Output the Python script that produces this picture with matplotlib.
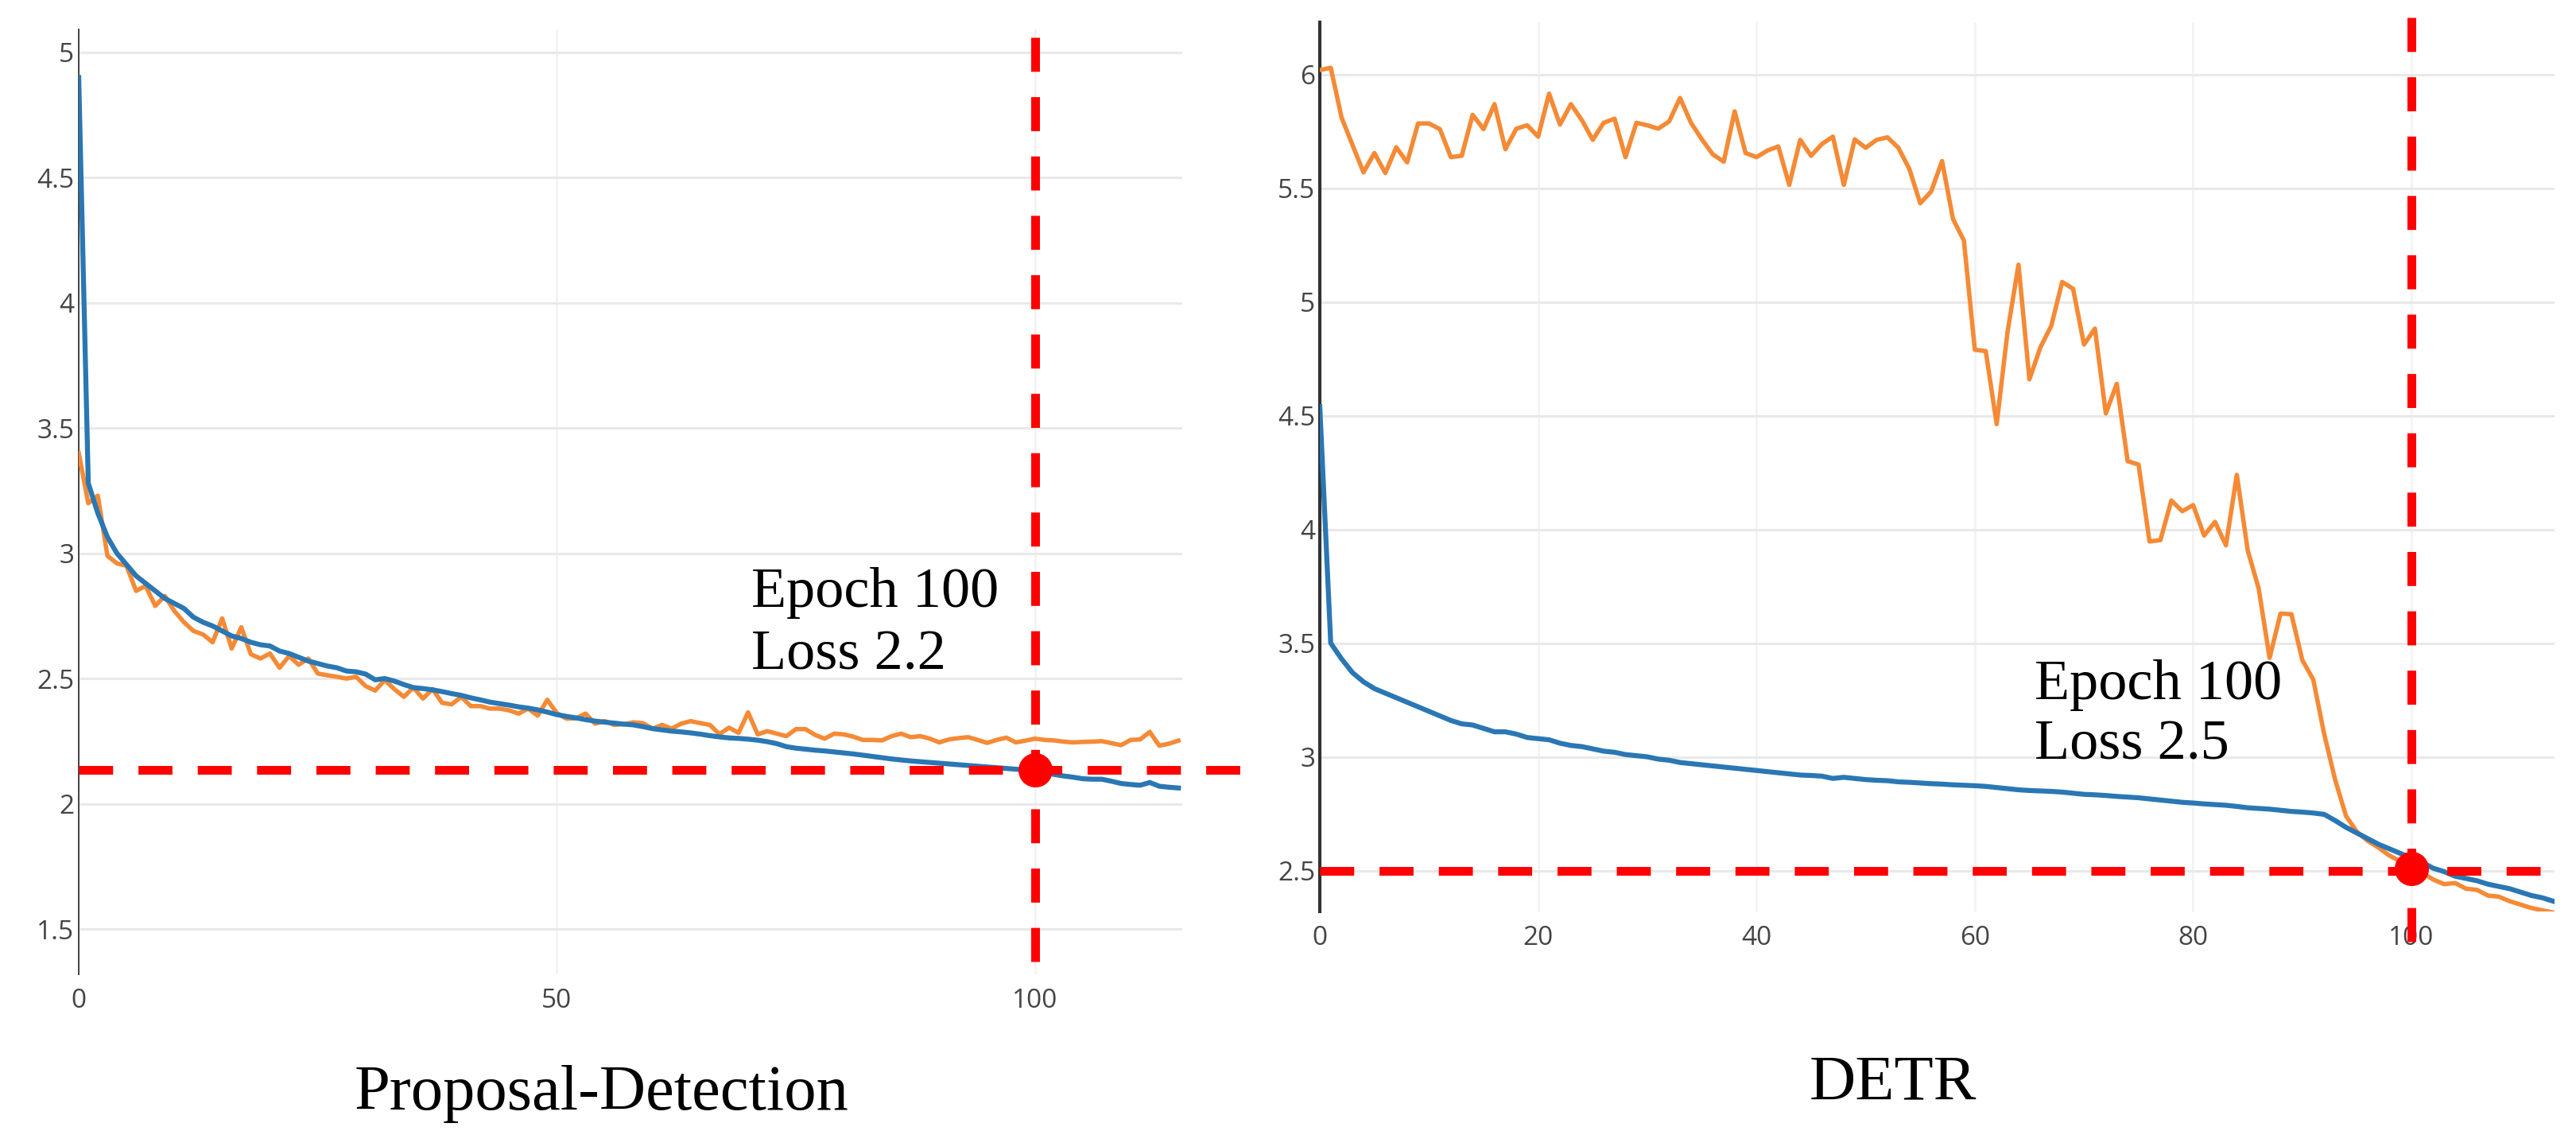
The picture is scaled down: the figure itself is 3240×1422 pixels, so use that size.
import matplotlib.pyplot as plt
import numpy as np

# Proposal-Detection loss curves (epoch 0..115)
pd_train = [4.90, 3.28, 3.16, 3.065, 3.00, 2.955, 2.91, 2.88, 2.85, 2.82,
            2.80, 2.78, 2.745, 2.725, 2.71, 2.69, 2.67, 2.66, 2.645, 2.635,
            2.63, 2.61, 2.60, 2.585, 2.57, 2.56, 2.55, 2.543, 2.53, 2.527,
            2.518, 2.495, 2.50, 2.49, 2.476, 2.464, 2.46, 2.455, 2.448, 2.44,
            2.433, 2.423, 2.415, 2.406, 2.40, 2.394, 2.387, 2.382, 2.375, 2.366,
            2.356, 2.349, 2.343, 2.336, 2.33, 2.326, 2.322, 2.318, 2.315, 2.308,
            2.30, 2.295, 2.29, 2.287, 2.283, 2.278, 2.272, 2.267, 2.263, 2.261,
            2.258, 2.254, 2.248, 2.24, 2.228, 2.222, 2.218, 2.214, 2.211, 2.207,
            2.203, 2.199, 2.194, 2.189, 2.184, 2.179, 2.175, 2.171, 2.168, 2.165,
            2.162, 2.159, 2.156, 2.153, 2.15, 2.147, 2.144, 2.141, 2.138, 2.135,
            2.132, 2.125, 2.117, 2.111, 2.106, 2.10, 2.098, 2.098, 2.09, 2.081,
            2.077, 2.074, 2.085, 2.07, 2.066, 2.063]
pd_val = [3.40, 3.20, 3.23, 2.99, 2.96, 2.95, 2.85, 2.87, 2.79, 2.83,
          2.77, 2.725, 2.69, 2.676, 2.645, 2.74, 2.62, 2.705, 2.597, 2.58,
          2.60, 2.543, 2.59, 2.555, 2.58, 2.52, 2.513, 2.507, 2.50, 2.507,
          2.47, 2.452, 2.494, 2.458, 2.427, 2.464, 2.42, 2.458, 2.403, 2.397,
          2.427, 2.39, 2.39, 2.38, 2.38, 2.373, 2.36, 2.38, 2.352, 2.415,
          2.362, 2.34, 2.341, 2.36, 2.32, 2.33, 2.315, 2.318, 2.325, 2.322,
          2.30, 2.315, 2.30, 2.32, 2.33, 2.322, 2.315, 2.278, 2.304, 2.283,
          2.365, 2.277, 2.29, 2.28, 2.27, 2.298, 2.298, 2.275, 2.26, 2.28,
          2.277, 2.268, 2.255, 2.255, 2.253, 2.27, 2.28, 2.266, 2.27, 2.26,
          2.245, 2.257, 2.262, 2.266, 2.255, 2.243, 2.255, 2.264, 2.245, 2.252,
          2.26, 2.255, 2.253, 2.248, 2.245, 2.247, 2.248, 2.25, 2.242, 2.234,
          2.255, 2.257, 2.287, 2.232, 2.24, 2.252]

# DETR loss curves (epoch 0..113)
detr_train = [4.54, 3.50, 3.43, 3.37, 3.33, 3.30, 3.28, 3.26, 3.24, 3.22,
              3.20, 3.18, 3.16, 3.145, 3.14, 3.125, 3.11, 3.11, 3.10, 3.085,
              3.08, 3.075, 3.06, 3.05, 3.045, 3.035, 3.025, 3.02, 3.01, 3.005,
              3.0, 2.99, 2.985, 2.975, 2.97, 2.965, 2.96, 2.955, 2.95, 2.945,
              2.94, 2.935, 2.93, 2.925, 2.92, 2.918, 2.915, 2.905, 2.91, 2.905,
              2.90, 2.897, 2.895, 2.89, 2.888, 2.885, 2.882, 2.88, 2.877, 2.875,
              2.873, 2.87, 2.865, 2.86, 2.855, 2.852, 2.85, 2.848, 2.845, 2.84,
              2.835, 2.833, 2.83, 2.826, 2.823, 2.82, 2.815, 2.81, 2.805, 2.80,
              2.797, 2.793, 2.79, 2.787, 2.782, 2.776, 2.773, 2.77, 2.765, 2.76,
              2.757, 2.753, 2.747, 2.72, 2.69, 2.665, 2.64, 2.615, 2.595, 2.575,
              2.555, 2.535, 2.51, 2.495, 2.475, 2.465, 2.455, 2.44, 2.43, 2.42,
              2.405, 2.39, 2.38, 2.365]
detr_val = [6.02, 6.03, 5.81, 5.69, 5.57, 5.655, 5.567, 5.68, 5.614, 5.785,
            5.785, 5.76, 5.637, 5.643, 5.823, 5.76, 5.87, 5.672, 5.762, 5.777,
            5.727, 5.916, 5.78, 5.87, 5.80, 5.713, 5.788, 5.806, 5.637, 5.788,
            5.777, 5.762, 5.794, 5.897, 5.788, 5.715, 5.649, 5.617, 5.838, 5.655,
            5.637, 5.666, 5.684, 5.515, 5.713, 5.643, 5.695, 5.727, 5.515, 5.715,
            5.678, 5.713, 5.724, 5.678, 5.585, 5.434, 5.486, 5.62, 5.365, 5.27,
            4.79, 4.784, 4.463, 4.87, 5.164, 4.66, 4.80, 4.895, 5.088, 5.058,
            4.813, 4.883, 4.51, 4.64, 4.30, 4.285, 3.947, 3.953, 4.127, 4.08,
            4.107, 3.973, 4.033, 3.93, 4.24, 3.907, 3.74, 3.435, 3.63, 3.627,
            3.425, 3.34, 3.10, 2.90, 2.74, 2.67, 2.63, 2.60, 2.565, 2.54,
            2.52, 2.49, 2.46, 2.44, 2.445, 2.42, 2.415, 2.39, 2.385, 2.365,
            2.35, 2.335, 2.325, 2.315]

mark_epoch = 100
pd_mark_loss = 2.135
pd_mark_label = 'Loss 2.2'
detr_mark_loss = 2.51
detr_line_loss = 2.5
detr_mark_label = 'Loss 2.5'

pd_yticks = [1.5, 2, 2.5, 3, 3.5, 4, 4.5, 5]
pd_xticks = [0, 50, 100]
detr_yticks = [2.5, 3, 3.5, 4, 4.5, 5, 5.5, 6]
detr_xticks = [0, 20, 40, 60, 80, 100]

BLUE = '#2a77b4'
ORANGE = '#f58a36'
RED = '#ff0000'
serif = 'Liberation Serif'

fig = plt.figure(figsize=(32.41, 14.22), dpi=100)
ax1 = fig.add_axes([0.03055, 0.13854, 0.42826, 0.83544])
ax2 = fig.add_axes([0.51219, 0.1941, 0.47917, 0.78621])


def style(ax, xticks, yticks, spine_w, spine_c):
    for s in ['top', 'right', 'bottom']:
        ax.spines[s].set_visible(False)
    ax.spines['left'].set_linewidth(spine_w)
    ax.spines['left'].set_color(spine_c)
    ax.set_xticks(xticks)
    ax.set_yticks(yticks)
    ax.set_yticklabels(['%g' % v for v in yticks])
    ax.set_xticklabels(['%g' % v for v in xticks])
    ax.tick_params(axis='y', length=0, pad=4, labelsize=24, labelcolor='#444444')
    ax.tick_params(axis='x', length=0, pad=12, labelsize=24, labelcolor='#444444')
    for lab in ax.get_xticklabels() + ax.get_yticklabels():
        lab.set_fontfamily('Open Sans')
    ax.grid(axis='y', color='#e9e9e9', lw=2.2, zorder=0)
    ax.grid(axis='x', color='#f2f2f2', lw=1.8, zorder=0)
    ax.set_axisbelow(True)


# left panel
ep1 = np.arange(len(pd_train))
ax1.plot(ep1, pd_val, color=ORANGE, lw=4, zorder=3)
ax1.plot(ep1, pd_train, color=BLUE, lw=4.5, zorder=3)
ax1.set_xlim(0, 115.4)
ax1.set_ylim(1.319, 5.092)
style(ax1, pd_xticks, pd_yticks, 1.4, '#444444')
ax1.plot([0, 121.9], [pd_mark_loss, pd_mark_loss], color=RED, lw=7.9,
         dashes=(3.9, 2.9), dash_capstyle='butt', clip_on=False, zorder=4)
ax1.plot([mark_epoch, mark_epoch], [5.06, 1.319], color=RED, lw=7.9,
         dashes=(3.9, 2.9), dash_capstyle='butt', clip_on=False, zorder=4)
ax1.plot([mark_epoch], [pd_mark_loss], 'o', color=RED, ms=30, clip_on=False, zorder=5)
ax1.text(70.3, 2.787, 'Epoch %d' % mark_epoch, fontsize=52, family=serif,
         va='baseline', ha='left', zorder=6)
ax1.text(70.3, 2.537, pd_mark_label, fontsize=52, family=serif,
         va='baseline', ha='left', zorder=6)

# right panel
ep2 = np.arange(len(detr_train))
ax2.plot(ep2, detr_val, color=ORANGE, lw=4, zorder=3)
ax2.plot(ep2, detr_train, color=BLUE, lw=4.5, zorder=3)
ax2.set_xlim(0, 113.1)
ax2.set_ylim(2.32, 6.23)
style(ax2, detr_xticks, detr_yticks, 3, '#333333')
ax2.plot([0, 113.1], [detr_line_loss, detr_line_loss], color=RED, lw=7.9,
         dashes=(3.9, 2.9), dash_capstyle='butt', clip_on=False, zorder=4)
ax2.plot([mark_epoch, mark_epoch], [6.25, 2.16], color=RED, lw=7.9,
         dashes=(3.9, 2.9), dash_capstyle='butt', clip_on=False, zorder=4)
ax2.plot([mark_epoch], [detr_mark_loss], 'o', color=RED, ms=30, clip_on=False, zorder=5)
ax2.text(65.5, 3.253, 'Epoch %d' % mark_epoch, fontsize=52, family=serif,
         va='baseline', ha='left', zorder=6)
ax2.text(65.5, 2.988, detr_mark_label, fontsize=52, family=serif,
         va='baseline', ha='left', zorder=6)

fig.text(0.2333, 0.019, 'Proposal-Detection', fontsize=58, family=serif,
         ha='center', va='baseline')
fig.text(0.7347, 0.028, 'DETR', fontsize=58, family=serif,
         ha='center', va='baseline')

fig.savefig('out.png', dpi=100)
